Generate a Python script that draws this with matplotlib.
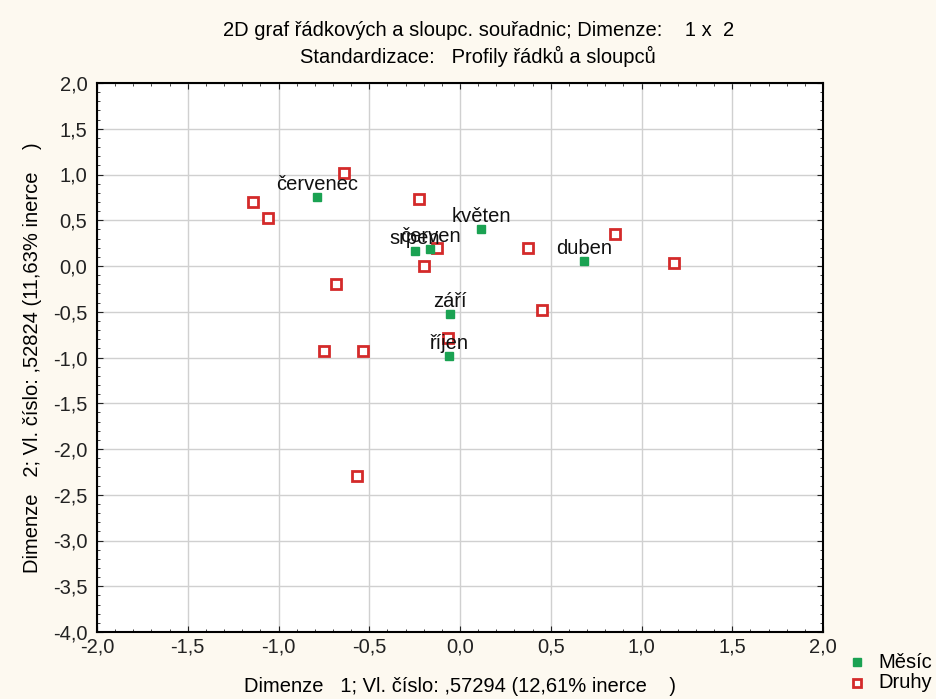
import matplotlib.pyplot as plt
from matplotlib.ticker import MultipleLocator, FuncFormatter

plt.rcParams['font.family'] = ['Liberation Sans', 'DejaVu Sans']

# Měsíc (row points)
mesic_labels = ['červenec', 'květen', 'srpen', 'červen', 'duben', 'září', 'říjen']
mesic_x = [-0.788, 0.116, -0.248, -0.165, 0.683, -0.055, -0.061]
mesic_y = [0.754, 0.404, 0.164, 0.186, 0.055, -0.525, -0.984]

# Druhy (column points)
druhy_x = [-0.641, -1.139, -1.060, -0.224, -0.129, -0.198, 0.376, 0.854,
           1.177, -0.685, 0.452, -0.751, -0.533, -0.064, -0.569]
druhy_y = [1.013, 0.696, 0.528, 0.729, 0.193, -0.004, 0.197, 0.346,
           0.033, -0.200, -0.481, -0.929, -0.929, -0.790, -2.295]

bg = '#fdf9f0'
fs = 14.5
fig = plt.figure(figsize=(9.36, 6.99), dpi=100, facecolor=bg)
ax = fig.add_axes([97 / 936, 1 - 632 / 699, 726 / 936, 549 / 699])
ax.set_facecolor('white')

ax.plot(druhy_x, druhy_y, 's', ms=6.5, mfc='white', mec='#d42a2a', mew=2,
        linestyle='none', zorder=3)
ax.plot(mesic_x, mesic_y, 's', ms=6, color='#1aa252', linestyle='none', zorder=4)
for lab, x, y in zip(mesic_labels, mesic_x, mesic_y):
    ax.annotate(lab, (x, y), xytext=(0, 2), textcoords='offset points',
                ha='center', va='bottom', fontsize=fs, color='#111111', zorder=5)

ax.set_xlim(-2, 2)
ax.set_ylim(-4, 2)
ax.xaxis.set_major_locator(MultipleLocator(0.5))
ax.yaxis.set_major_locator(MultipleLocator(0.5))
ax.xaxis.set_minor_locator(MultipleLocator(0.1))
ax.yaxis.set_minor_locator(MultipleLocator(0.1))
fmt = FuncFormatter(lambda v, p: f'{v:.1f}'.replace('.', ','))
ax.xaxis.set_major_formatter(fmt)
ax.yaxis.set_major_formatter(fmt)
ax.tick_params(which='both', direction='in', top=True, right=True,
               labelsize=fs, colors='#222222')
ax.tick_params(axis='y', pad=7)
ax.tick_params(axis='x', pad=4)
ax.tick_params(which='major', length=4)
ax.tick_params(which='minor', length=2)
ax.grid(True, which='major', color='#d0d0d0', linewidth=1)
ax.set_axisbelow(True)
for s in ax.spines.values():
    s.set_linewidth(1.5)

ax.set_xlabel('Dimenze   1; Vl. číslo: ,57294 (12,61% inerce    )', fontsize=fs, labelpad=15)
ax.set_ylabel('Dimenze   2; Vl. číslo: ,52824 (11,63% inerce    )', fontsize=fs, labelpad=8)

fig.text(0.511, 1 - 30 / 699, '2D graf řádkových a sloupc. souřadnic; Dimenze:    1 x  2',
         ha='center', va='center', fontsize=fs)
fig.text(0.511, 1 - 56 / 699, 'Standardizace:   Profily řádků a sloupců',
         ha='center', va='center', fontsize=fs)

# legend outside at bottom right
fig.lines.append(plt.Line2D([857 / 936], [1 - 662 / 699], marker='s', ms=6,
                            color='#1aa252', linestyle='none', transform=fig.transFigure))
fig.lines.append(plt.Line2D([857 / 936], [1 - 683 / 699], marker='s', ms=6,
                            mfc='white', mec='#d42a2a', mew=2, linestyle='none',
                            transform=fig.transFigure))
fig.text(878 / 936, 1 - 662 / 699, 'Měsíc', ha='left', va='center', fontsize=fs)
fig.text(878 / 936, 1 - 683 / 699, 'Druhy', ha='left', va='center', fontsize=fs)

fig.savefig('out.png', dpi=100, facecolor=bg)
